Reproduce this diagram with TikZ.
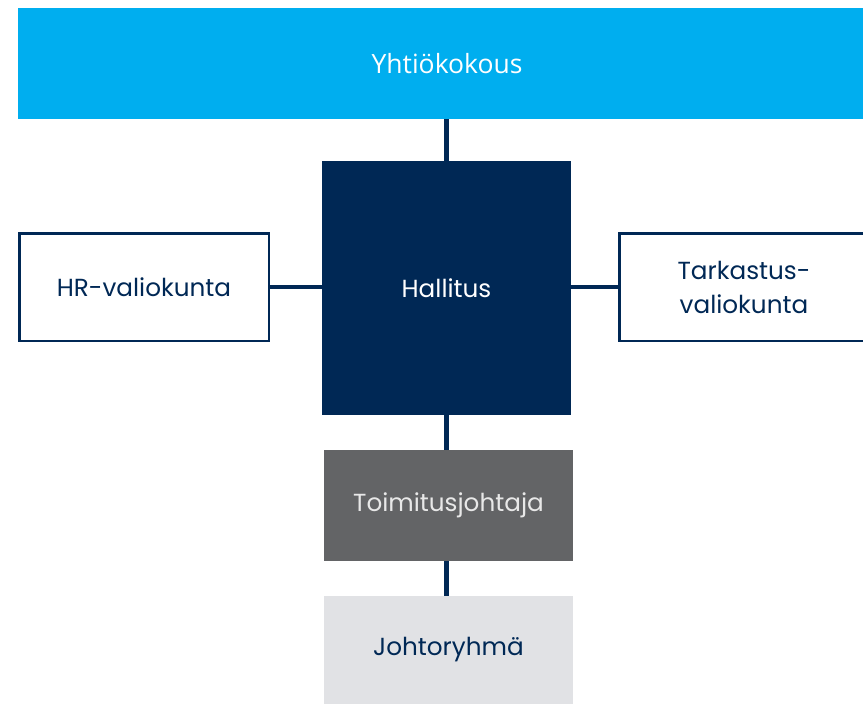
\documentclass[tikz,border=0pt]{standalone}
\usepackage{fontspec}
\setmainfont{Poppins}
\newfontfamily\opensans{Open Sans}
\usetikzlibrary{positioning}

\definecolor{skyblue}{HTML}{00AEEF}
\definecolor{navy}{HTML}{002855}
\definecolor{darkgray}{HTML}{636466}
\definecolor{lightgray}{HTML}{E1E2E5}
\definecolor{palegray}{HTML}{E8E8E8}

\begin{document}
\begin{tikzpicture}[
  x=1pt, y=-1pt,
  font=\fontsize{24.7}{34}\selectfont,
  box/.style={rectangle, inner sep=0pt, align=center, minimum width=249pt},
  sidebox/.style={rectangle, draw=navy, line width=2.5pt, fill=white, text=navy, align=center,
    minimum width=249.5pt, minimum height=107.5pt, inner sep=0pt},
  link/.style={navy, line width=4.5pt}
]
\useasboundingbox (0,0) rectangle (863,704);

% Top level
\node[rectangle, fill=skyblue, text=white, minimum width=858pt, minimum height=111pt, inner sep=0pt,
  font=\opensans\fontsize{26.5}{30}\selectfont] (yhtio) at (447,63.5) {Yhtiökokous};

% Board and its committees
\node[box, fill=navy, text=white, minimum height=254pt] (hallitus) at (446.5,288) {Hallitus};
\node[sidebox] (hr) at (144,287) {HR-valiokunta};
\node[sidebox] (tarkastus) at (744,287) {Tarkastus-\\valiokunta};

% Management
\node[box, fill=darkgray, text=palegray, minimum height=111pt] (toimitus) at (448.5,505.5) {Toimitusjohtaja};
\node[box, fill=lightgray, text=navy, minimum height=108pt] (johto) at (448.5,650) {Johtoryhmä};

% Connectors
\draw[link] (yhtio.south -| hallitus.north) -- (hallitus.north);
\draw[link, line width=4pt] (hr.east) -- (hr.east -| hallitus.west);
\draw[link, line width=4pt] (tarkastus.west -| hallitus.east) -- (tarkastus.west);
\draw[link] (hallitus.south) -- (hallitus.south |- toimitus.north);
\draw[link] (toimitus.south -| hallitus.south) -- (johto.north -| hallitus.south);
\end{tikzpicture}
\end{document}
